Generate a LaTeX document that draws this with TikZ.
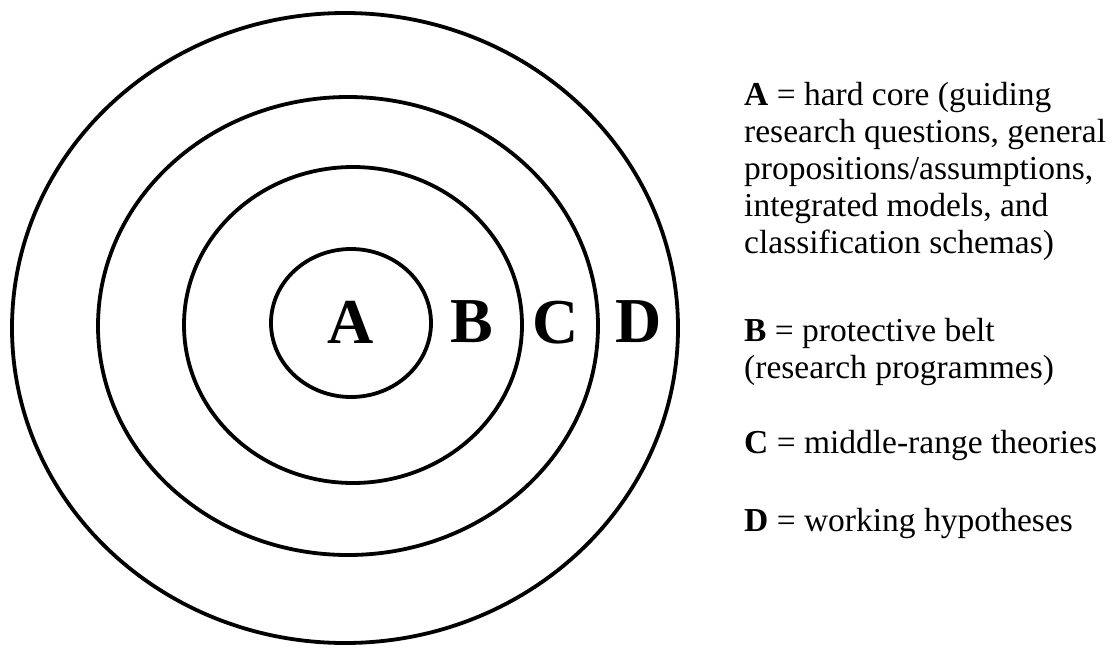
\documentclass[tikz,border=0pt]{standalone}
\usepackage{fontspec}
\setmainfont{Liberation Serif}
\usetikzlibrary{positioning}

\begin{document}
\begin{tikzpicture}[
    x=1pt, y=-1pt,
    ring/.style={draw=black, line width=3.8pt},
    letter/.style={font=\fontsize{64}{64}\selectfont\bfseries, inner sep=0pt},
    legend/.style={font=\fontsize{33.5}{37}\selectfont, align=left, anchor=north west, inner sep=0pt},
  ]
  \useasboundingbox (0,0) rectangle (1114,648);

  % rings, outermost first
  \foreach \cx/\cy/\rx/\ry in {345/328/333/315, 348/326/250/229, 353/325/169/158, 351/323/80/74}
    \draw[ring] (\cx,\cy) ellipse [x radius=\rx, y radius=\ry];

  \node[letter] (ringA) at (351,322) {A};
  \node[letter] (ringB) at (472,322) {B};
  \node[letter] (ringC) at (556,323) {C};
  \node[letter] (ringD) at (639,322) {D};

  \node[legend] (keyA) at (744,82) {\textbf{A} = hard core (guiding\\ research questions, general\\ propositions/assumptions,\\ integrated models, and\\ classification schemas)};
  \node[legend] (keyB) at (744,318) {\textbf{B} = protective belt\\ (research programmes)};
  \node[legend] (keyC) at (744,430) {\textbf{C} = middle-range theories};
  \node[legend] (keyD) at (744,508) {\textbf{D} = working hypotheses};
\end{tikzpicture}
\end{document}
